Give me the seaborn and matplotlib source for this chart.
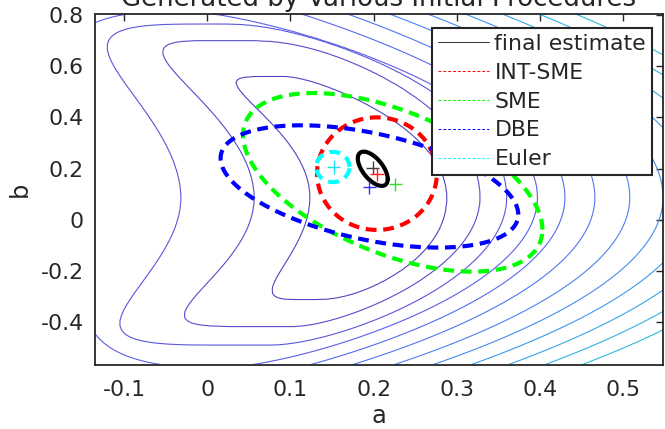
import numpy as np
import pandas as pd
import matplotlib
matplotlib.use("Agg")
import matplotlib.pyplot as plt
import seaborn as sns
from matplotlib.colors import LinearSegmentedColormap
from matplotlib.lines import Line2D

# ---------------- data ----------------
title_text = "Generated by Various Initial Procedures"
methods = ["final estimate", "INT-SME", "SME", "DBE", "Euler"]
method_colors = ["#000000", "#ff0000", "#00ff00", "#0000ff", "#00ffff"]
marker_colors = ["#404040", "#ff2020", "#30e030", "#3030ff", "#20e0f0"]

# point estimates (+ markers)
est_a = [0.199, 0.204, 0.226, 0.195, 0.152]
est_b = [0.203, 0.178, 0.138, 0.127, 0.206]

# uncertainty ellipses: centre, half extents and correlation
ell_ca = [0.199, 0.204, 0.223, 0.195, 0.151]
ell_cb = [0.199, 0.180, 0.146, 0.130, 0.206]
ell_ha = [0.018, 0.072, 0.180, 0.179, 0.020]
ell_hb = [0.067, 0.220, 0.349, 0.239, 0.059]
ell_rho = [-0.60, 0.0, -0.53, -0.46, 0.0]

# criterion surface: each contour level described by the extents read off
# the picture (inner/outer edge at the ridge line, top and bottom), the bend
# of its flanks and the squareness of its four quarters
contour_levels = [1, 2, 3, 4, 5, 6, 7, 8, 9, 10, 11, 12]
right_edge_a = [0.288, 0.328, 0.360, 0.397, 0.430, 0.466, 0.508, 0.548, 0.588, 0.628, 0.668, 0.708]
left_edge_a = [0.123, 0.056, -0.032, -0.155, -0.280, -0.400, -0.520, -0.640, -0.760, -0.880, -1.000, -1.120]
top_b = [0.560, 0.700, 0.765, 0.816, 1.010, 1.180, 1.330, 1.470, 1.620, 1.780, 1.950, 2.120]
bottom_b = [-0.313, -0.418, -0.490, -0.580, -0.660, -0.740, -0.820, -0.900, -0.980, -1.060, -1.140, -1.220]
bend_left_up = [0.60, 0.55, 0.45, 0.45, 0.45, 0.45, 0.45, 0.45, 0.45, 0.45, 0.45, 0.45]
bend_left_low = [0.60, 0.58, 0.58, 0.45, 0.45, 0.45, 0.45, 0.45, 0.45, 0.45, 0.45, 0.45]
bend_right = [0.50, 0.42, 0.40, 0.45, 0.45, 0.45, 0.45, 0.45, 0.45, 0.45, 0.45, 0.45]
power_ul = [3.5, 2.7, 3.0, 2, 2, 2, 2, 2, 2, 2, 2, 2]
power_ur = [2.0, 3.0, 2.5, 2, 2, 2, 2, 2, 2, 2, 2, 2]
power_ll = [2.8, 4.0, 3.0, 2, 2, 2, 2, 2, 2, 2, 2, 2]
power_lr = [2.7, 2.0, 2.0, 2, 2, 2, 2, 2, 2, 2, 2, 2]
ridge_b0 = 0.10
ridge_tilt = 0.016

x_ticks = [-0.1, 0.0, 0.1, 0.2, 0.3, 0.4, 0.5]
x_tick_labels = ["-0.1", "0", "0.1", "0.2", "0.3", "0.4", "0.5"]
y_ticks = [-0.4, -0.2, 0.0, 0.2, 0.4, 0.6, 0.8]
y_tick_labels = ["-0.4", "-0.2", "0", "0.2", "0.4", "0.6", "0.8"]
x_lim = (-0.135, 0.548)
y_lim = (-0.566, 0.804)

# ---------------- figure ----------------
sns.set_theme(style="white")
plt.rcParams["font.family"] = ["DejaVu Sans"]
plt.rcParams["axes.unicode_minus"] = False

fig = plt.figure(figsize=(6.65, 4.29), dpi=100)
ax = fig.add_axes([95 / 665, 1 - 364.5 / 429, 568 / 665, 350.5 / 429])

# surface built from the contour descriptions
ag = np.linspace(x_lim[0], x_lim[1], 500)
bg = np.linspace(y_lim[0], y_lim[1], 500)
AA, BB = np.meshgrid(ag, bg)
uc = (right_edge_a[0] + left_edge_a[0]) / 2
V = BB - ridge_b0
up = V > 0
n = len(contour_levels)
G = np.empty((n,) + AA.shape)
for i in range(n):
    kl = np.where(up, bend_left_up[i], bend_left_low[i])
    uL = AA + kl * V ** 2 + ridge_tilt * V - uc
    uR = AA + bend_right[i] * V ** 2 + ridge_tilt * V - uc
    W = np.where(uL < 0, uL, np.where(uR > 0, uR, 0.0))
    left = W < 0
    a_ext = np.where(left, uc - left_edge_a[i], right_edge_a[i] - uc)
    b_ext = np.where(up, top_b[i] - ridge_b0, ridge_b0 - bottom_b[i])
    p = np.where(up, np.where(left, power_ul[i], power_ur[i]),
                 np.where(left, power_ll[i], power_lr[i]))
    G[i] = (np.abs(W / a_ext) ** p + np.abs(V / b_ext) ** p) ** (1.0 / p)
lev = np.array(contour_levels, float)
F = np.full(AA.shape, np.nan)
m = G[0] <= 1
F[m] = lev[0] * G[0][m]
for i in range(n - 1):
    m = (G[i] > 1) & (G[i + 1] <= 1)
    F[m] = lev[i] + (lev[i + 1] - lev[i]) * (G[i][m] - 1) / (G[i][m] - G[i + 1][m])
m = G[-1] > 1
F[m] = lev[-1] + (G[-1][m] - 1)

cmap = LinearSegmentedColormap.from_list(
    "parula_part", ["#5246c0", "#5d5de6", "#4f7cf5", "#3c9ced", "#2fbbe0"])
ax.contour(AA, BB, F, levels=contour_levels, cmap=cmap, linewidths=0.8,
           vmin=contour_levels[0], vmax=contour_levels[-1])

# ellipses
tt = np.linspace(0, 2 * np.pi, 300)
for i, name in enumerate(methods):
    ex = ell_ca[i] + ell_ha[i] * np.cos(tt)
    ey = ell_cb[i] + ell_hb[i] * (ell_rho[i] * np.cos(tt)
                                  + np.sqrt(1 - ell_rho[i] ** 2) * np.sin(tt))
    df = pd.DataFrame({"a": ex, "b": ey})
    ls = "-" if i == 0 else (0, (2.6, 1.6))
    sns.lineplot(data=df, x="a", y="b", sort=False, estimator=None, ax=ax,
                 color=method_colors[i], linewidth=3.0, linestyle=ls,
                 legend=False)

# + markers
pts = pd.DataFrame({"a": est_a, "b": est_b, "m": methods})
sns.scatterplot(data=pts, x="a", y="b", hue="m", palette=dict(zip(methods, marker_colors)),
                marker="+", s=90, linewidth=1.0, ax=ax, legend=False, zorder=5)

ax.set_xlim(*x_lim)
ax.set_ylim(*y_lim)
ax.set_xticks(x_ticks)
ax.set_xticklabels(x_tick_labels)
ax.set_yticks(y_ticks)
ax.set_yticklabels(y_tick_labels)
ax.tick_params(direction="in", length=5, width=1.0, colors="#262626",
               top=True, right=True, labelsize=15.8, pad=8)
ax.tick_params(axis="x", pad=11)
for sp in ax.spines.values():
    sp.set_color("#262626")
    sp.set_linewidth(1.3)
ax.set_xlabel("")
ax.set_ylabel("")

# legend
handles = [Line2D([], [], color="#333333", lw=0.7, linestyle="-")]
for c in method_colors[1:]:
    handles.append(Line2D([], [], color=c, lw=0.7, linestyle=(0, (3, 2))))
leg = ax.legend(handles, methods, loc="upper right", bbox_to_anchor=(0.981, 0.960),
                borderaxespad=0, fontsize=15.8, frameon=True, fancybox=False,
                framealpha=1, edgecolor="#262626", handlelength=2.3,
                handletextpad=0.25, labelspacing=0.40, borderpad=0.28)
leg.get_frame().set_linewidth(1.5)

fig.text(379 / 665, 1 - 6.4 / 429, title_text, ha="center", va="baseline",
         fontsize=18.7, color="#262626")
fig.text(379 / 665, 1 / 429, "a", ha="center", va="bottom",
         fontsize=17.4, color="#262626")
fig.text(19.5 / 665, 1 - 189.6 / 429, "b", ha="center", va="center",
         rotation=90, fontsize=17.4, color="#262626")

fig.savefig("out.png", dpi=100)
